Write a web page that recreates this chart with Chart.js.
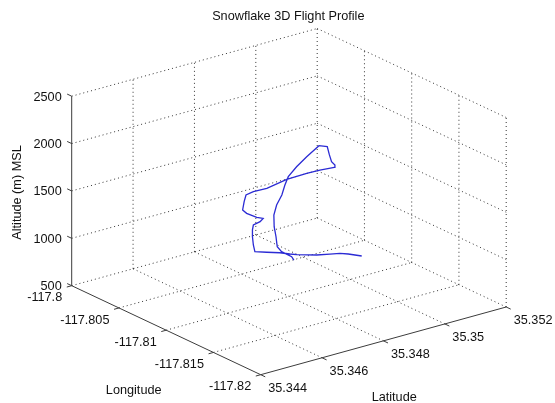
<!DOCTYPE html>
<html>
<head>
<meta charset="utf-8">
<script src="https://cdn.jsdelivr.net/npm/chart.js@4/dist/chart.umd.min.js"></script>
<style>html,body{margin:0;background:#fff}</style>
</head>
<body>
<canvas id="chart-flight" width="555" height="403"></canvas>
<script>
// flight track
const flightLon = [-117.80981, -117.80900, -117.80858, -117.80829, -117.80791, -117.80709, -117.80672, -117.80615, -117.80557, -117.80503,
  -117.805, -117.805, -117.805, -117.805, -117.805, -117.805, -117.805, -117.805, -117.805, -117.805, -117.805, -117.805,
  -117.806, -117.806, -117.806, -117.806, -117.806, -117.806, -117.806, -117.806, -117.806, -117.806,
  -117.806, -117.806, -117.806, -117.806, -117.806, -117.806, -117.806, -117.806, -117.806, -117.806,
  -117.80607, -117.80704, -117.8076];
const flightLat = [35.35043, 35.35024, 35.35010, 35.34986, 35.34955, 35.34915, 35.34904, 35.34889, 35.34864, 35.34842,
  35.34838, 35.34835, 35.34835, 35.34838, 35.3486, 35.3487, 35.34849, 35.34816, 35.34803, 35.34808, 35.34814, 35.34838,
  35.34851, 35.34916, 35.34981, 35.35024, 35.35071, 35.35073, 35.35062, 35.35055, 35.35048, 35.35021,
  35.34981, 35.34948, 35.34921, 35.3491, 35.349, 35.34883, 35.34874, 35.34875, 35.34881, 35.34885,
  35.34897, 35.349, 35.3489];
const flightAlt = [700, 700, 700, 700, 700, 700, 700, 700, 700, 700,
  773, 864, 935, 984, 1000, 1026, 1056, 1127, 1174, 1257, 1322, 1336,
  1407, 1444, 1449, 1445, 1432, 1454, 1499, 1577, 1670, 1705,
  1624, 1548, 1467, 1389, 1293, 1202, 1104, 980, 869, 760,
  700, 690, 690];

const lonTicks = [-117.8, -117.805, -117.81, -117.815, -117.82];
const latTicks = [35.344, 35.346, 35.348, 35.35, 35.352];
const altTicks = [500, 1000, 1500, 2000, 2500];
const lonLabels = ['-117.8', '-117.805', '-117.81', '-117.815', '-117.82'];
const latLabels = ['35.344', '35.346', '35.348', '35.35', '35.352'];
const altLabels = ['500', '1000', '1500', '2000', '2500'];

// orthographic view (az/el like the matlab default), in canvas pixels
const view = { ox: 71.7, oy: 285.7, ux: 189, uy: 89, vx: 245.5, vy: -67.7, wz: 189.5 };

const lon0 = lonTicks[0], lon1 = lonTicks[lonTicks.length - 1];
const lat0 = latTicks[0], lat1 = latTicks[latTicks.length - 1];
const alt0 = altTicks[0], alt1 = altTicks[altTicks.length - 1];

const project = (lon, lat, alt) => {
  const a = (lon - lon0) / (lon1 - lon0);
  const b = (lat - lat0) / (lat1 - lat0);
  const c = (alt - alt0) / (alt1 - alt0);
  return { x: view.ox + a * view.ux + b * view.vx, y: view.oy + a * view.uy + b * view.vy - c * view.wz };
};

const seg = (p, q, color, width, dash) => ({
  data: [project(...p), project(...q)],
  showLine: true,
  pointRadius: 0,
  borderColor: color,
  borderWidth: width,
  borderDash: dash,
  tension: 0
});

const gridColor = 'rgba(0,0,0,0.8)';
const axisColor = '#3c3c3c';
const dots = [1, 3];

const gridSegs = [];
latTicks.slice(1, -1).forEach(lat => gridSegs.push([[lon0, lat, alt0], [lon0, lat, alt1]]));
altTicks.forEach(alt => gridSegs.push([[lon0, lat0, alt], [lon0, lat1, alt]]));
lonTicks.forEach(lon => gridSegs.push([[lon, lat1, alt0], [lon, lat1, alt1]]));
altTicks.forEach(alt => gridSegs.push([[lon0, lat1, alt], [lon1, lat1, alt]]));
lonTicks.slice(1, -1).forEach(lon => gridSegs.push([[lon, lat0, alt0], [lon, lat1, alt0]]));
latTicks.slice(1, -1).forEach(lat => gridSegs.push([[lon0, lat, alt0], [lon1, lat, alt0]]));

const dLon = (lon0 - lon1) * 0.024;
const dLat = (lat1 - lat0) * 0.02;
const axisSegs = [
  [[lon0, lat0, alt0], [lon0, lat0, alt1]],
  [[lon0, lat0, alt0], [lon1, lat0, alt0]],
  [[lon1, lat0, alt0], [lon1, lat1, alt0]]
];
altTicks.forEach(alt => axisSegs.push([[lon0, lat0, alt], [lon0 + dLon, lat0, alt]]));
lonTicks.forEach(lon => axisSegs.push([[lon, lat0, alt0], [lon, lat0 - dLat, alt0]]));
latTicks.forEach(lat => axisSegs.push([[lon1, lat, alt0], [lon1 - dLon, lat, alt0]]));

const flightSet = {
  data: flightLon.map((lon, i) => project(lon, flightLat[i], flightAlt[i])),
  showLine: true,
  pointRadius: 0,
  borderColor: '#2b2bd4',
  borderWidth: 1.3,
  tension: 0
};

const textPlugin = {
  id: 'axesText',
  afterDraw(chart) {
    const { ctx } = chart;
    const sx = chart.scales.x, sy = chart.scales.y;
    const px = p => ({ x: sx.getPixelForValue(p.x), y: sy.getPixelForValue(p.y) });
    ctx.save();
    ctx.fillStyle = '#111';
    ctx.font = '12.7px "Liberation Sans", Arial, sans-serif';
    ctx.textBaseline = 'alphabetic';

    ctx.textAlign = 'right';
    altTicks.forEach((alt, i) => {
      const p = px(project(lon0, lat0, alt));
      ctx.fillText(altLabels[i], p.x - 10, p.y + 4.3);
    });
    lonTicks.forEach((lon, i) => {
      const p = px(project(lon, lat0, alt0));
      ctx.fillText(lonLabels[i], p.x - 9.5, p.y + 15.7);
    });
    ctx.textAlign = 'left';
    latTicks.forEach((lat, i) => {
      const p = px(project(lon1, lat, alt0));
      ctx.fillText(latLabels[i], p.x + 7.5, p.y + 16.8);
    });

    ctx.textAlign = 'center';
    ctx.fillText('Snowflake 3D Flight Profile', 288.3, 19.5);
    ctx.fillText('Longitude', 133.7, 394.3);
    ctx.fillText('Latitude', 394.2, 400.7);
    ctx.translate(20.8, 192.5);
    ctx.rotate(-Math.PI / 2);
    ctx.fillText('Altitude (m) MSL', 0, 0);
    ctx.restore();
  }
};

const flightChart = new Chart(document.getElementById('chart-flight'), {
  type: 'scatter',
  data: {
    datasets: [
      flightSet,
      ...axisSegs.map(s => seg(s[0], s[1], axisColor, 1, [])),
      ...gridSegs.map(s => seg(s[0], s[1], gridColor, 1, dots))
    ]
  },
  options: {
    responsive: false,
    animation: false,
    layout: { padding: 0 },
    scales: {
      x: { type: 'linear', min: 0, max: 555, display: false },
      y: { type: 'linear', min: 0, max: 403, reverse: true, display: false }
    },
    plugins: { legend: { display: false }, tooltip: { enabled: false } }
  },
  plugins: [textPlugin]
});
</script>
</body>
</html>
